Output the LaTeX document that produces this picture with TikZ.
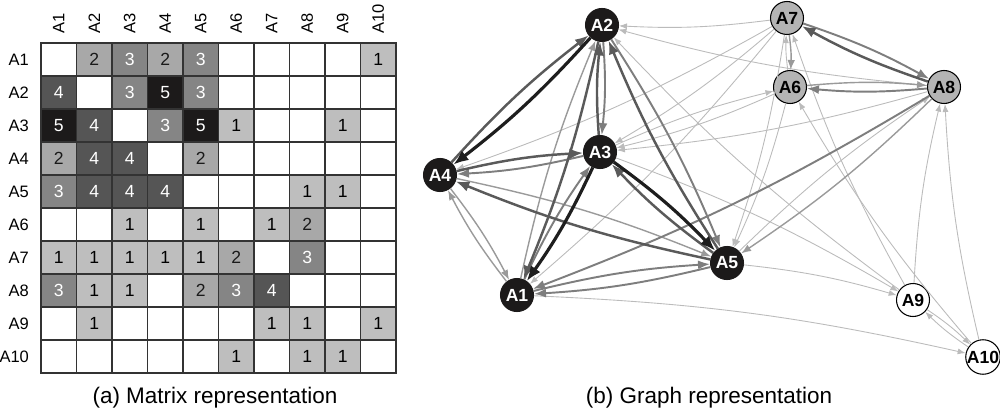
\documentclass[tikz,border=0pt]{standalone}
\usepackage{fontspec}
\setmainfont{Liberation Sans}
\usetikzlibrary{arrows.meta}
% cell shades by weight
\definecolor{s0}{HTML}{FFFFFF}
\definecolor{s1}{HTML}{BEBEBE}
\definecolor{s2}{HTML}{A8A8A8}
\definecolor{s3}{HTML}{858585}
\definecolor{s4}{HTML}{555555}
\definecolor{s5}{HTML}{1C1A1A}
\definecolor{t0}{HTML}{000000}
\definecolor{t1}{HTML}{000000}
\definecolor{t2}{HTML}{1A1A1A}
\definecolor{t3}{HTML}{FFFFFF}
\definecolor{t4}{HTML}{FFFFFF}
\definecolor{t5}{HTML}{FFFFFF}
% connector shades by weight
\definecolor{l1}{HTML}{BBBBBB}
\definecolor{l2}{HTML}{9A9A9A}
\definecolor{l3}{HTML}{7E7E7E}
\definecolor{l4}{HTML}{5A5A5A}
\definecolor{l5}{HTML}{1E1E1E}
\definecolor{gridline}{HTML}{333333}
\definecolor{midgray}{HTML}{B4B4B4}
\tikzset{
  cell/.style={rectangle, draw=gridline, line width=0.9pt, fill=s#1, text=t#1,
               minimum width=0.71cm, minimum height=0.66cm, inner sep=0pt,
               font=\fontsize{10}{12}\selectfont},
  lab/.style={font=\fontsize{9.4}{11}\selectfont, inner sep=1pt},
  caption/.style={font=\fontsize{12.8}{15}\selectfont},
  agent/.style={circle, minimum size=0.66cm, inner sep=0pt, line width=0.6pt,
                font=\fontsize{10}{12}\selectfont\bfseries},
  core/.style={agent, fill=s5, draw=s5, text=white},
  mid/.style={agent, fill=midgray, draw=black, text=black},
  outer/.style={agent, fill=white, draw=black, text=black},
  link1/.style={draw=l1, line width=0.5pt, -{Latex[length=1.6mm, width=1.2mm]}},
  link2/.style={draw=l2, line width=0.8pt, -{Latex[length=2mm, width=1.5mm]}},
  link3/.style={draw=l3, line width=1.1pt, -{Latex[length=2.4mm, width=1.8mm]}},
  link4/.style={draw=l4, line width=1.4pt, -{Latex[length=2.7mm, width=2.1mm]}},
  link5/.style={draw=l5, line width=1.8pt, -{Latex[length=3mm, width=2.4mm]}},
}
\begin{document}
\begin{tikzpicture}[x=0.02cm, y=-0.02cm]
  \useasboundingbox (0,0) rectangle (1000,412);
  % matrix
  \foreach \row [count=\i] in {{0,2,3,2,3,0,0,0,0,1}, {4,0,3,5,3,0,0,0,0,0}, {5,4,0,3,5,1,0,0,1,0},
                               {2,4,4,0,2,0,0,0,0,0}, {3,4,4,4,0,0,0,1,1,0}, {0,0,1,0,1,0,1,2,0,0},
                               {1,1,1,1,1,2,0,3,0,0}, {3,1,1,0,2,3,4,0,0,0}, {0,1,0,0,0,0,1,1,0,1},
                               {0,0,0,0,0,1,0,1,1,0}}{
    \node[lab, anchor=east] (r\i) at (31,{26.5+33*\i}) {A\i};
    \node[lab, rotate=90, anchor=west] (h\i) at ({23.25+35.5*\i},36) {A\i};
    \foreach \v [count=\j] in \row {
      \node[cell=\v] (c\i-\j) at ({23.25+35.5*\j},{26.5+33*\i}) {\ifnum\v>0 \v\fi};
    }
  }
  \node[caption] (capa) at (215,398) {(a) Matrix representation};
  % graph
  \foreach \i/\x/\y in {1/517/295, 2/602/25, 3/600/152, 4/440/175, 5/727/263}{
    \node[core] (n\i) at (\x,\y) {A\i};
  }
  \foreach \i/\x/\y in {6/790/87, 7/787/18, 8/944/87}{
    \node[mid] (n\i) at (\x,\y) {A\i};
  }
  \foreach \i/\x/\y in {9/913/300, 10/983/357}{
    \node[outer] (n\i) at (\x,\y) {A\i};
  }
  \foreach \a/\b/\w in {1/10/1, 3/6/1, 3/9/1, 5/8/1, 5/9/1, 6/3/1, 6/5/1, 6/7/1, 7/1/1, 7/2/1, 7/3/1,
                        7/4/1, 7/5/1, 8/2/1, 8/3/1, 9/2/1, 9/7/1, 9/8/1, 9/10/1, 10/6/1, 10/8/1, 10/9/1,
                        1/2/2, 1/4/2, 4/1/2, 4/5/2, 6/8/2, 7/6/2, 8/5/2,
                        1/3/3, 1/5/3, 2/3/3, 2/5/3, 3/4/3, 5/1/3, 7/8/3, 8/1/3, 8/6/3,
                        2/1/4, 3/2/4, 4/2/4, 4/3/4, 5/2/4, 5/3/4, 5/4/4, 8/7/4,
                        2/4/5, 3/1/5, 3/5/5}{
    \draw[link\w] (n\a) to[bend left=5] (n\b);
  }
  \node[caption] (capb) at (709,398) {(b) Graph representation};
\end{tikzpicture}
\end{document}
